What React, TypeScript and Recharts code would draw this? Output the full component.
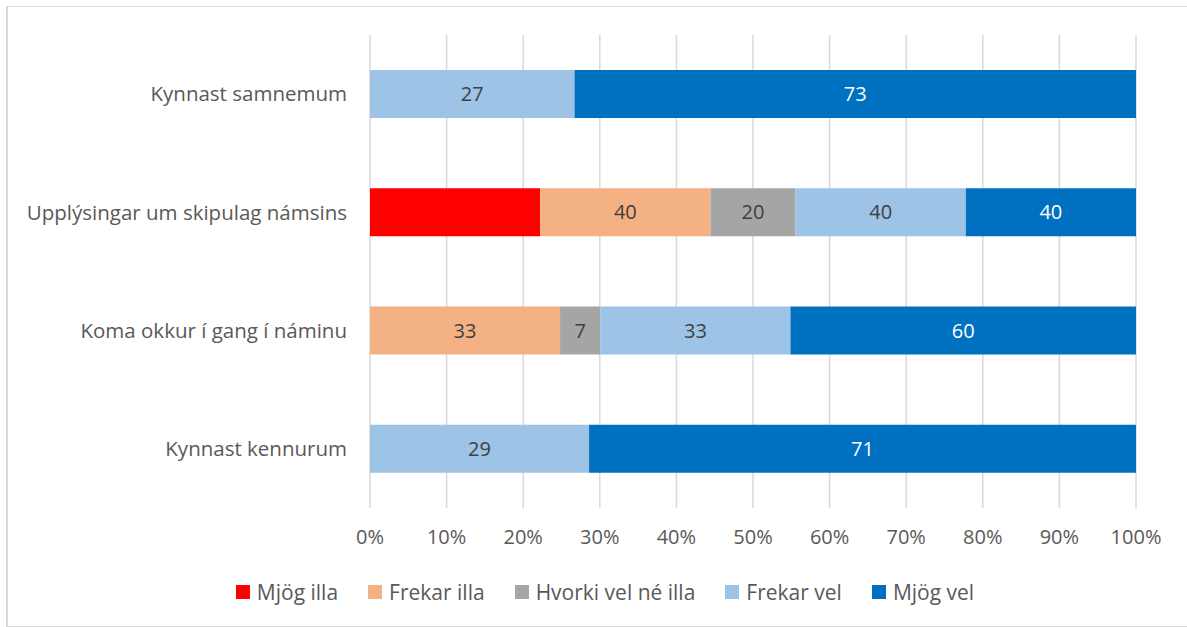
import React from 'react';
import {
  BarChart,
  Bar,
  XAxis,
  YAxis,
  CartesianGrid,
  Legend,
  LabelList
} from 'recharts';

const categories = [
  'Kynnast samnemum',
  'Upplýsingar um skipulag námsins',
  'Koma okkur í gang í náminu',
  'Kynnast kennurum'
];
const mjogIlla = [0, 40, 0, 0];
const frekarIlla = [0, 40, 33, 0];
const hvorki = [0, 20, 7, 0];
const frekarVel = [26.7, 40, 33, 28.6];
const mjogVel = [73.3, 40, 60, 71.4];
const xTicks = [0, 0.1, 0.2, 0.3, 0.4, 0.5, 0.6, 0.7, 0.8, 0.9, 1];

const SERIES = [
  { key: 'mjogIlla', name: 'Mjög illa', color: '#FF0000', labelColor: null },
  { key: 'frekarIlla', name: 'Frekar illa', color: '#F4B183', labelColor: '#404040' },
  { key: 'hvorki', name: 'Hvorki vel né illa', color: '#A5A5A5', labelColor: '#404040' },
  { key: 'frekarVel', name: 'Frekar vel', color: '#9DC3E6', labelColor: '#404040' },
  { key: 'mjogVel', name: 'Mjög vel', color: '#0070C0', labelColor: '#ffffff' }
];

const data = categories.map((name, i) => ({
  name,
  mjogIlla: mjogIlla[i],
  frekarIlla: frekarIlla[i],
  hvorki: hvorki[i],
  frekarVel: frekarVel[i],
  mjogVel: mjogVel[i]
}));

const FONT = '"Open Sans", sans-serif';

const renderLegend = () => (
  <div style={{ display: 'flex', justifyContent: 'center', alignItems: 'center', height: 40, paddingLeft: 74, fontFamily: FONT, fontSize: 21, color: '#595959' }}>
    {SERIES.map((s) => (
      <div key={s.key} style={{ display: 'flex', alignItems: 'center', margin: '0 15px' }}>
        <span style={{ width: 14, height: 14, background: s.color, display: 'inline-block', marginRight: 7 }} />
        <span>{s.name}</span>
      </div>
    ))}
  </div>
);

export default function App() {
  return (
    <div style={{ position: 'fixed', left: 0, top: 0, width: 1187, height: 627, overflow: 'hidden', background: '#fff' }}>
      <div style={{ position: 'absolute', left: 6, top: 6, width: 1220, height: 619, borderTop: '1px solid #d9d9d9', borderLeft: '2px solid #d9d9d9', borderBottom: '1px solid #d9d9d9' }} />
      <div style={{ position: 'absolute', left: 0, top: 0 }}>
        <BarChart
          width={1187}
          height={627}
          data={data}
          layout="vertical"
          stackOffset="expand"
          barSize={48}
          margin={{ top: 35, right: 51, left: 0, bottom: 15 }}
        >
          <CartesianGrid horizontal={false} stroke="#d9d9d9" strokeWidth={1.5} />
          <XAxis
            type="number"
            domain={[0, 1]}
            ticks={xTicks}
            tickFormatter={(v: number) => `${Math.round(v * 100)}%`}
            axisLine={false}
            tickLine={false}
            tickSize={0}
            tickMargin={22}
            height={64}
            interval={0}
            tick={{ fill: '#595959', fontFamily: FONT, fontSize: 20 }}
          />
          <YAxis
            type="category"
            dataKey="name"
            width={370}
            axisLine={false}
            tickLine={false}
            tickSize={0}
            tickMargin={23}
            interval={0}
            tick={{ fill: '#595959', fontFamily: FONT, fontSize: 20.5 }}
          />
          <Legend verticalAlign="bottom" height={40} content={renderLegend} />
          {SERIES.map((s) => (
            <Bar key={s.key} dataKey={s.key} name={s.name} stackId="a" fill={s.color} isAnimationActive={false}>
              {s.labelColor && (
                <LabelList
                  dataKey={s.key}
                  position="center"
                  formatter={(v: any) => (v ? Math.round(Number(v)) : '')}
                  style={{ fill: s.labelColor, fontFamily: FONT, fontSize: 20 }}
                />
              )}
            </Bar>
          ))}
        </BarChart>
      </div>
    </div>
  );
}
